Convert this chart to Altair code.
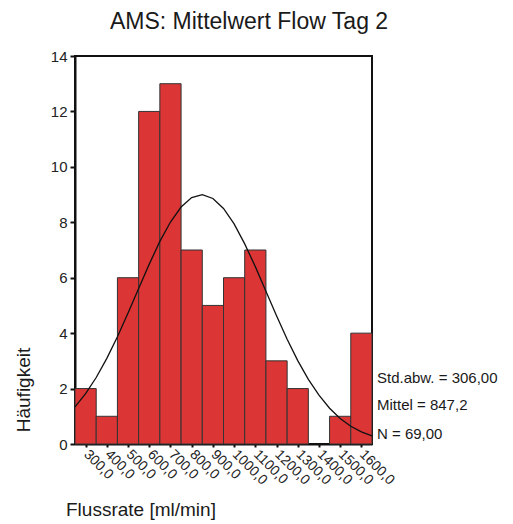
import altair as alt
import pandas as pd

# Histogram data (bin centers, counts)
bin_centers = [300, 400, 500, 600, 700, 800, 900, 1000, 1100, 1200, 1300, 1400, 1500, 1600]
counts = [2, 1, 6, 12, 13, 7, 5, 6, 7, 3, 2, 0, 1, 4]
bin_width = 100

# Fitted normal curve points (mean 847,2, sd 306, N 69)
curve_x = [250, 300, 350, 400, 450, 500, 550, 600, 650, 700, 750, 800, 850, 900, 950,
           1000, 1050, 1100, 1150, 1200, 1250, 1300, 1350, 1400, 1450, 1500, 1550, 1600, 1650]
curve_y = [1.34, 1.82, 2.40, 3.09, 3.87, 4.73, 5.61, 6.49, 7.31, 8.01, 8.55, 8.89, 9.00, 8.86, 8.50,
           7.94, 7.22, 6.40, 5.51, 4.63, 3.78, 3.01, 2.33, 1.76, 1.29, 0.92, 0.64, 0.44, 0.29]

title_text = "AMS: Mittelwert Flow Tag 2"
y_title = "Häufigkeit"
x_title = "Flussrate [ml/min]"
stats_lines = ["Std.abw. = 306,00", "Mittel = 847,2", "N = 69,00"]

FONT = "Liberation Sans"
W, H = 297, 388

bars_df = pd.DataFrame({
    "start": [c - bin_width / 2 for c in bin_centers],
    "end": [c + bin_width / 2 for c in bin_centers],
    "count": counts,
})
curve_df = pd.DataFrame({"x": curve_x, "y": curve_y})

xscale = alt.Scale(domain=[250, 1650], nice=False, zero=False)
yscale = alt.Scale(domain=[0, 14], nice=False)

xaxis = alt.Axis(
    title=None, values=bin_centers,
    labelExpr="replace(format(datum.value, '.1f'), '.', ',')",
    labelAngle=45, labelAlign="left", labelBaseline="middle",
    labelFont=FONT, labelFontSize=14, labelColor="#222222",
    tickSize=3, tickColor="#111111", tickWidth=2, labelPadding=5,
    domainColor="#111111", domainWidth=2, grid=False, labelOverlap=False,
)
yaxis = alt.Axis(
    title=None, values=[0, 2, 4, 6, 8, 10, 12, 14],
    labelFont=FONT, labelFontSize=15, labelColor="#222222",
    tickSize=5, tickColor="#111111", tickWidth=2, labelPadding=3,
    domainColor="#111111", domainWidth=2, grid=False, labelOverlap=False,
)

bars = alt.Chart(bars_df).transform_filter("datum.count > 0").mark_bar(
    color="#dc3535", stroke="#333333", strokeWidth=1
).encode(
    x=alt.X("start:Q", scale=xscale, axis=xaxis),
    x2="end:Q",
    y=alt.Y("count:Q", scale=yscale, axis=yaxis),
    y2=alt.datum(0),
)

curve = alt.Chart(curve_df).mark_line(color="#111111", strokeWidth=1.3).encode(
    x=alt.X("x:Q", scale=xscale, axis=xaxis),
    y=alt.Y("y:Q", scale=yscale, axis=yaxis),
)

one = pd.DataFrame({"a": [0]})

def label(text, x, y, size, align="left", angle=0, baseline="middle"):
    return alt.Chart(one).mark_text(
        text=text, font=FONT, fontSize=size, align=align, baseline=baseline,
        angle=angle, color="#1a1a1a"
    ).encode(x=alt.value(x), y=alt.value(y))

texts = [
    label(title_text, 174, -34, 23, align="center"),
    label(y_title, -51, 334, 19, align="center", angle=270),
    label(x_title, -9, 454, 19),
    label(stats_lines[0], 302, 322, 15),
    label(stats_lines[1], 302, 349, 15),
    label(stats_lines[2], 302, 378, 15),
]

chart = alt.layer(bars, curve, *texts).properties(
    width=W, height=H,
    autosize=alt.AutoSizeParams(type="none"),
    padding={"left": 67, "top": 48, "right": 130, "bottom": 76},
).configure_view(stroke="#111111", strokeWidth=2).configure_axis(labelOverlap=False)

chart.save("out.html", embed_options={"renderer": "svg", "actions": False})
